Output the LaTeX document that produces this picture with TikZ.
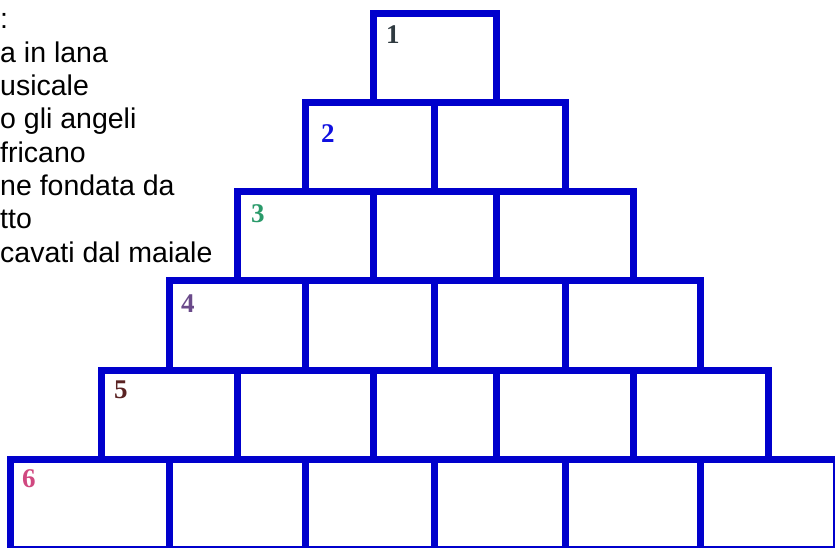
\documentclass[tikz,border=0pt]{standalone}
\usepackage{fontspec}
\setmainfont{Liberation Serif}
\setsansfont{Liberation Sans}
\definecolor{cbox}{HTML}{0000CC}
\definecolor{cone}{HTML}{2F3A40}
\definecolor{ctwo}{HTML}{1010E0}
\definecolor{cthree}{HTML}{2A9A6A}
\definecolor{cfour}{HTML}{6A4A8A}
\definecolor{cfive}{HTML}{5A2222}
\definecolor{csix}{HTML}{D04880}

\begin{document}
\begin{tikzpicture}[
    x=1pt, y=-1pt,
    cell/.style={draw=cbox, line width=7pt},
    num/.style={anchor=base west, inner sep=0pt,
                font=\fontsize{27}{27}\selectfont\bfseries},
    clue/.style={anchor=base west, inner sep=0pt,
                 font=\sffamily\fontsize{28.5}{28.5}\selectfont},
  ]
  \path[use as bounding box] (0,0) rectangle (835,547);
  % == the clues, cut at the left edge
  \foreach \txt/\yb [count=\i] in {:/28, a in lana/62, usicale/95,
      o gli angeli/128, fricano/162, ne fondata da/195, tto/228,
      cavati dal maiale/262}
    \node[clue] (clue\i) at (0,\yb) {\txt};
  % == the pyramid, one row at a time
  \foreach \a/\b in {373/496}
    \draw[cell] (\a,13) rectangle (\b,102);
  \foreach \a/\b in {305/434, 434/565}
    \draw[cell] (\a,102) rectangle (\b,191);
  \foreach \a/\b in {237/373, 373/496, 496/633}
    \draw[cell] (\a,191) rectangle (\b,280);
  \foreach \a/\b in {169/305, 305/434, 434/565, 565/700}
    \draw[cell] (\a,280) rectangle (\b,370);
  \foreach \a/\b in {101/237, 237/373, 373/496, 496/633, 633/768}
    \draw[cell] (\a,370) rectangle (\b,459);
  \foreach \a/\b in {10/169, 169/305, 305/434, 434/565, 565/700, 700/836}
    \draw[cell] (\a,459) rectangle (\b,549);
  % == row numbers
  \node[num, text=cone]   (n1) at (386,43)  {1};
  \node[num, text=ctwo]   (n2) at (321,142) {2};
  \node[num, text=cthree] (n3) at (251,222) {3};
  \node[num, text=cfour]  (n4) at (181,312) {4};
  \node[num, text=cfive]  (n5) at (114,398) {5};
  \node[num, text=csix]   (n6) at (22,487)  {6};
\end{tikzpicture}
\end{document}
